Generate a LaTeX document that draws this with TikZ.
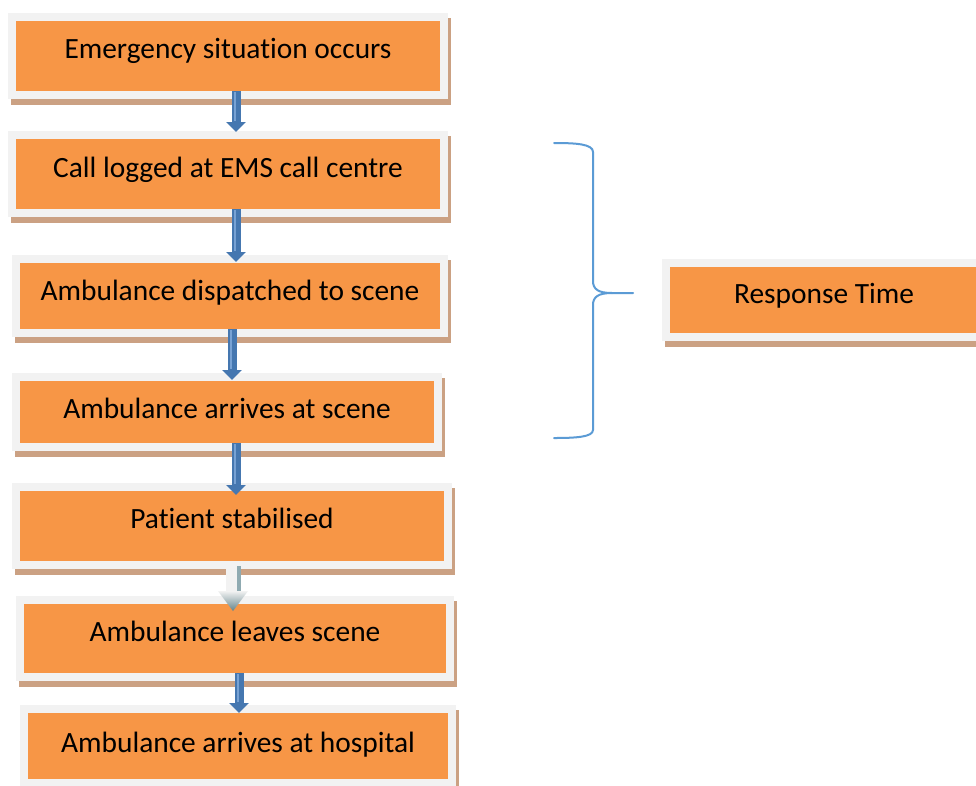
\documentclass[tikz,border=0pt]{standalone}
\usepackage{fontspec}
\setmainfont{Carlito}[Ligatures=NoCommon]
\usetikzlibrary{arrows.meta,calc,backgrounds}
\definecolor{boxorange}{HTML}{F79646}
\definecolor{framegray}{HTML}{F2F2F2}
\definecolor{shadowtan}{HTML}{CBA183}
\definecolor{arrowblue}{HTML}{4577B0}
\definecolor{arrowhi}{HTML}{78A2D4}
\definecolor{bracecol}{HTML}{5B9BD5}
\definecolor{palearrow}{HTML}{F2F2F2}
\definecolor{palesliver}{HTML}{8FAAB1}
\definecolor{paledark}{HTML}{62838A}
\begin{document}
\begin{tikzpicture}[x=1pt,y=-1pt,
  box/.style={fill=boxorange, inner sep=0pt, outer sep=0pt, draw=none,
    preaction={draw=framegray, line width=16pt}},
  lbl/.style={anchor=base, font=\fontsize{29.4}{35}\selectfont, text=black, inner sep=0pt},
  flow/.style={line width=9pt, draw=arrowblue, -{Triangle[width=19pt,length=10pt]}},
  flowhi/.style={line width=1.2pt, draw=arrowhi},
  brace/.style={draw=bracecol, line width=2pt, line cap=round, line join=round},
  shadowbox/.style={fill=shadowtan}
]
\useasboundingbox (0,0) rectangle (976,785);

% boxes (orange area; frame as preaction)
\node[box, minimum width=424pt, minimum height=70pt] (b1) at (228,56) {};
\node[box, minimum width=424pt, minimum height=70pt] (b2) at (228,174) {};
\node[box, minimum width=420pt, minimum height=66pt] (b3) at (230,296) {};
\node[box, minimum width=414pt, minimum height=62pt] (b4) at (227,412) {};
\node[box, minimum width=424pt, minimum height=70pt] (b5) at (232,526) {};
\node[box, minimum width=422pt, minimum height=69pt] (b6) at (235,638.5) {};
\node[box, minimum width=420pt, minimum height=66pt] (b7) at (238,746) {};
\node[box, minimum width=320pt, minimum height=66pt] (rt) at (830,300) {};

% background and shadows
\begin{scope}[on background layer]
  \fill[white] (0,0) rectangle (976,785);
  \foreach \b in {b1,b2,b3,b4,b5,b6,b7,rt}{
    \fill[shadowbox] ($(\b.north west)+(-5,-3)$) rectangle ($(\b.south east)+(11,14)$);
  }
\end{scope}

% labels
\node[lbl] (t1) at (228,58) {Emergency situation occurs};
\node[lbl] (t2) at (228,177) {Call logged at EMS call centre};
\node[lbl] (t3) at (230,300) {Ambulance dispatched to scene};
\node[lbl] (t4) at (227,418) {Ambulance arrives at scene};
\node[lbl] (t5) at (232,528) {Patient stabilised};
\node[lbl] (t6) at (235,641) {Ambulance leaves scene};
\node[lbl] (t7) at (238,752) {Ambulance arrives at hospital};
\node[lbl] (t8) at (824,303) {Response Time};

% blue block arrows
\draw[flow] ($(b1.south)+(8,0)$) -- ($(b2.north)+(8,-7)$);
\draw[flowhi] ($(b1.south)+(7,1)$) -- ($(b2.north)+(7,-18)$);
\draw[flow] ($(b2.south)+(8,0)$) -- ($(b3.north)+(6,-1)$);
\draw[flowhi] ($(b2.south)+(7,1)$) -- ($(b3.north)+(5,-12)$);
\draw[flow] ($(b3.south)+(2,0)$) -- ($(b4.north)+(5,-1)$);
\draw[flowhi] ($(b3.south)+(1,1)$) -- ($(b4.north)+(4,-12)$);
\draw[flow] ($(b4.south)+(9,0)$) -- ($(b5.north)+(4,4)$);
\draw[flowhi] ($(b4.south)+(8,1)$) -- ($(b5.north)+(3,-7)$);
\draw[flow] ($(b6.south)+(4,0)$) -- ($(b7.north)+(1,0)$);
\draw[flowhi] ($(b6.south)+(3,1)$) -- ($(b7.north)+(0,-11)$);

% pale arrow between b5 and b6
\coordinate (p5a) at ($(b5.south)+(1,0)$);
\coordinate (p5b) at ($(b6.north)+(-2,7)$);
\fill[palearrow] ($(p5a)+(-7,0)$) rectangle ($(p5b)+(7,-20)$);
\fill[palesliver] ($(p5a)+(4,5)$) rectangle ($(p5b)+(8,-20)$);
\shade[top color=palearrow, bottom color=paledark]
  ($(p5b)+(-15,-20)$) -- ($(p5b)+(15,-20)$) -- (p5b) -- cycle;

% brace
\draw[brace] (554,143) .. controls (576,143) and (593,144) .. (593,152)
  -- (593,281) .. controls (593,289) and (598,293) .. (612,293) -- (633,293);
\draw[brace] (612,293) .. controls (598,293) and (593,297) .. (593,305)
  -- (593,430) .. controls (593,437) and (576,438) .. (554,438);
\end{tikzpicture}
\end{document}
